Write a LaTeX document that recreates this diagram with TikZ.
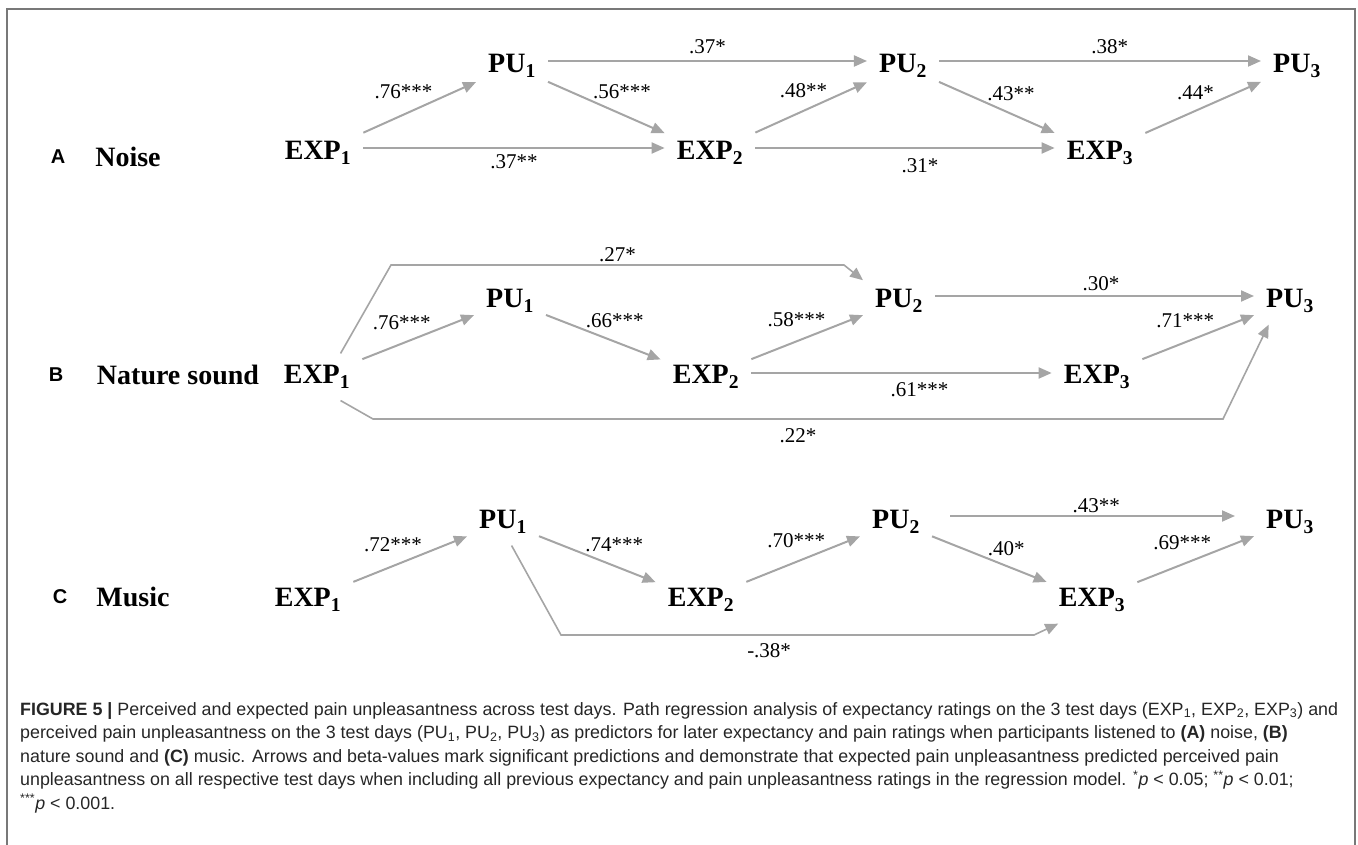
\documentclass[tikz,border=0pt]{standalone}
\usepackage{fontspec}
\setmainfont{Liberation Serif}
\setsansfont{Liberation Sans}
\usetikzlibrary{arrows.meta}

\definecolor{arrgray}{RGB}{165,165,165}
\definecolor{framegray}{RGB}{120,120,120}
\newcommand{\varfont}{\fontsize{28}{30}\selectfont\bfseries}
\newcommand{\coeffont}{\fontsize{21}{23}\selectfont}
\newcommand{\panelfont}{\sffamily\fontsize{20}{22}\selectfont\bfseries}
\newcommand{\capfont}{\sffamily\fontsize{17.85}{23.5}\selectfont}

\begin{document}
\begin{tikzpicture}[x=1pt, y=-1pt,
  var/.style={font=\varfont, inner sep=12pt},
  cond/.style={font=\varfont, inner sep=0pt},
  panel/.style={font=\panelfont, inner sep=0pt},
  coef/.style={font=\coeffont, inner sep=1pt},
  arr/.style={-{Triangle[length=13pt, width=11pt]}, draw=arrgray, line width=2pt},
  bypass/.style={arr, line width=1.6pt}]
\useasboundingbox (0,0) rectangle (1358,845);
\draw[framegray, line width=1.5pt] (7,9) rectangle (1355,870);

% A: noise
\node[panel] (lblA) at (58,157) {A};
\node[cond] (condA) at (128,157) {Noise};
\node[var] (expA1) at (318,153) {EXP\textsubscript{1}};
\node[var] (puA1) at (512,66) {PU\textsubscript{1}};
\node[var] (expA2) at (710,153) {EXP\textsubscript{2}};
\node[var] (puA2) at (903,66) {PU\textsubscript{2}};
\node[var] (expA3) at (1100,153) {EXP\textsubscript{3}};
\node[var] (puA3) at (1297,66) {PU\textsubscript{3}};
\draw[arr] (expA1) -- node[coef, pos=.63, anchor=south east] {.76***} (puA1);
\draw[arr] (puA1) -- node[coef, pos=.37, anchor=south west] {.56***} (expA2);
\draw[arr] ([yshift=5pt]puA1.east) -- node[coef, above=5pt] {.37*} ([yshift=5pt]puA2.west);
\draw[arr] ([yshift=5pt]expA1.east) -- node[coef, below=5pt] {.37**} ([yshift=5pt]expA2.west);
\draw[arr] (expA2) -- node[coef, pos=.66, anchor=south east] {.48**} (puA2);
\draw[arr] ([yshift=5pt]expA2.east) -- node[coef, pos=.55, below=9pt] {.31*} ([yshift=5pt]expA3.west);
\draw[arr] (puA2) -- node[coef, pos=.4, anchor=south west] {.43**} (expA3);
\draw[arr] ([yshift=5pt]puA2.east) -- node[coef, pos=.53, above=5pt] {.38*} ([yshift=5pt]puA3.west);
\draw[arr] (expA3) -- node[coef, pos=.61, anchor=south east] {.44*} (puA3);

% B: nature sound
\node[panel] (lblB) at (56,375) {B};
\node[cond] (condB) at (178,375) {Nature sound};
\node[var] (expB1) at (317,377) {EXP\textsubscript{1}};
\node[var] (puB1) at (510,301) {PU\textsubscript{1}};
\node[var] (expB2) at (706,377) {EXP\textsubscript{2}};
\node[var] (puB2) at (899,301) {PU\textsubscript{2}};
\node[var] (expB3) at (1097,377) {EXP\textsubscript{3}};
\node[var] (puB3) at (1290,301) {PU\textsubscript{3}};
\coordinate (topL) at (391,265);
\coordinate (topR) at (844,265);
\coordinate (botL) at (373,419);
\coordinate (botR) at (1223,419);
\draw[arr] (expB1) -- node[coef, pos=.63, anchor=south east] {.76***} (puB1);
\draw[arr] (puB1) -- node[coef, pos=.33, anchor=south west] {.66***} (expB2);
\draw[bypass] (expB1.45) -- (topL) -- node[coef, above=1pt] {.27*} (topR) -- (puB2.150);
\draw[arr] (expB2) -- node[coef, pos=.68, anchor=south east] {.58***} (puB2);
\draw[arr] ([yshift=4pt]expB2.east) -- node[coef, pos=.56, below=8pt] {.61***} ([yshift=4pt]expB3.west);
\draw[arr] ([yshift=5pt]puB2.east) -- node[coef, pos=.52, above=3pt] {.30*} ([yshift=5pt]puB3.west);
\draw[arr] (expB3) -- node[coef, pos=.66, anchor=south east] {.71***} (puB3);
\draw[bypass] (expB1.-45) -- (botL) -- node[coef, below=8pt] {.22*} (botR) -- (puB3.228);

% C: music
\node[panel] (lblC) at (60,597) {C};
\node[cond] (condC) at (133,597) {Music};
\node[var] (expC1) at (308,600) {EXP\textsubscript{1}};
\node[var] (puC1) at (503,522) {PU\textsubscript{1}};
\node[var] (expC2) at (701,600) {EXP\textsubscript{2}};
\node[var] (puC2) at (896,522) {PU\textsubscript{2}};
\node[var] (expC3) at (1092,600) {EXP\textsubscript{3}};
\node[var] (puC3) at (1290,522) {PU\textsubscript{3}};
\coordinate (midL) at (561,635);
\coordinate (midR) at (1034,635);
\draw[arr] (expC1) -- node[coef, pos=.62, anchor=south east] {.72***} (puC1);
\draw[arr] (puC1) -- node[coef, pos=.38, anchor=south west] {.74***} (expC2);
\draw[arr] (expC2) -- node[coef, pos=.71, anchor=south east] {.70***} (puC2);
\draw[arr] (puC2) -- node[coef, pos=.47, anchor=south west] {.40*} (expC3);
\draw[arr, shorten <=18pt, shorten >=19pt] ([yshift=6pt]puC2.east) -- node[coef, pos=.51, above=1pt] {.43**} ([yshift=6pt]puC3.west);
\draw[arr] (expC3) -- node[coef, pos=.65, anchor=south east] {.69***} (puC3);
\draw[bypass] (puC1.290) -- (midL) -- node[coef, pos=.44, below=7pt] {-.38*} (midR) -- (expC3.215);

% caption
\node[anchor=north west, align=left, font=\capfont, inner sep=0pt, text=black!85] (caption) at (20,702)
  {\textbf{FIGURE 5 |} Perceived and expected pain unpleasantness across test days. Path regression analysis of expectancy ratings on the 3 test days (EXP\textsubscript{1}, EXP\textsubscript{2}, EXP\textsubscript{3}) and\\
  perceived pain unpleasantness on the 3 test days (PU\textsubscript{1}, PU\textsubscript{2}, PU\textsubscript{3}) as predictors for later expectancy and pain ratings when participants listened to \textbf{(A)} noise, \textbf{(B)}\\
  nature sound and \textbf{(C)} music. Arrows and beta-values mark significant predictions and demonstrate that expected pain unpleasantness predicted perceived pain\\
  unpleasantness on all respective test days when including all previous expectancy and pain unpleasantness ratings in the regression model. \textsuperscript{*}\textit{p} < 0.05; \textsuperscript{**}\textit{p} < 0.01;\\
  \textsuperscript{***}\textit{p} < 0.001.};
\end{tikzpicture}
\end{document}
